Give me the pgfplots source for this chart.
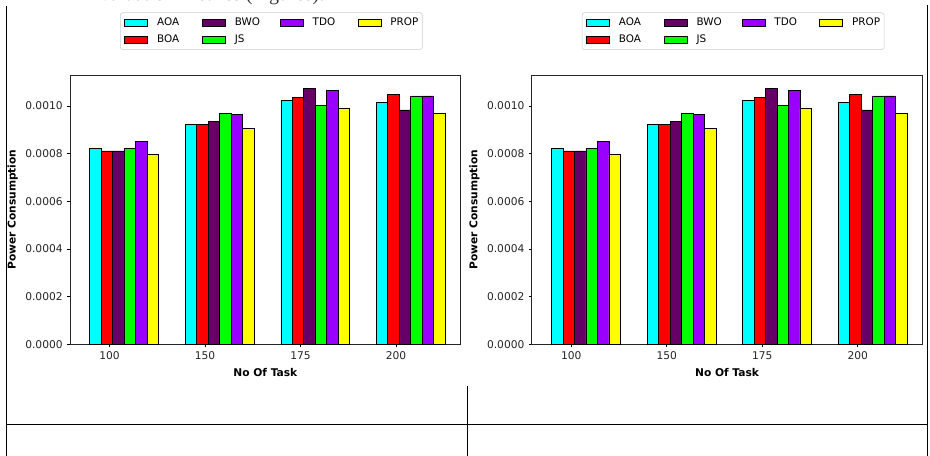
\documentclass[border=0pt]{standalone}
\usepackage{fontspec}
\setmainfont{DejaVu Sans}
\newfontfamily\seriffont{Liberation Serif}
\usepackage{pgfplots}
\usepackage{pgfplotstable}
\pgfplotsset{compat=1.18}
\definecolor{cAOA}{RGB}{0,255,255}
\definecolor{cBOA}{RGB}{255,0,0}
\definecolor{cBWO}{RGB}{102,0,102}
\definecolor{cJS}{RGB}{0,255,0}
\definecolor{cTDO}{RGB}{153,0,255}
\definecolor{cPROP}{RGB}{255,255,0}

\pgfplotstableread{
x AOA      BOA      BWO      JS       TDO      PROP
0 0.000821 0.000811 0.000811 0.000821 0.000852 0.000797
1 0.000923 0.000923 0.000934 0.000969 0.000964 0.000906
2 0.001022 0.001036 0.001073 0.001003 0.001066 0.000989
3 0.001013 0.001049 0.000983 0.001042 0.001042 0.000968
}\datatab

\pgfplotsset{
  mylegimg/.style={legend image code/.code={\draw[##1,draw=black,line width=0.6pt,sharp corners] (0pt,-2.5pt) rectangle (17.25pt,2.5pt);}},
  b/.style={ybar, bar width=0.12, bar shift=0pt, draw=black, line width=0.6pt, fill=#1, mylegimg},
  mybars/.style={
    scale only axis, width=293pt, height=202pt,
    xmin=-0.413, xmax=3.677, ymin=0, ymax=0.00113,
    xtick={0,1,2,3}, xticklabels={100,150,175,200},
    ytick={0,0.0002,0.0004,0.0006,0.0008,0.001},
    scaled y ticks=false,
    yticklabel style={/pgf/number format/.cd, fixed, fixed zerofill, precision=4},
    /pgf/number format/assume math mode=true,
    tick align=outside, tick pos=left, major tick length=2pt,
    every tick/.style={black, line width=0.45pt},
    axis line style={black!85, line width=0.55pt},
    tick label style={font=\fontsize{8}{9.6}\selectfont, text=black!85},
    label style={font=\fontsize{8}{9.6}\selectfont\bfseries},
    xlabel={No Of Task}, ylabel={Power Consumption},
    xlabel style={at={(axis description cs:0.5,-0.104)}, anchor=center},
    ylabel style={at={(axis description cs:-0.1465,0.5)}, anchor=center},
    legend columns=4,
    legend style={at={(axis description cs:0.128,1.0928)}, anchor=south west,
      draw=black!20, rounded corners=2pt, inner xsep=3pt, inner ysep=3.75pt,
      font=\fontsize{7.8}{9}\selectfont, row sep=5.25pt,
      /tikz/every odd column/.append style={column sep=6.75pt},
      nodes={inner sep=0pt, text height=6pt, text depth=1.5pt}},
  }
}

\newcommand{\bars}{%
  \addplot[b=cAOA]  table[x expr=\thisrow{x}+0.155-0.30, y=AOA]{\datatab};
  \addlegendentry{\makebox[33.75pt][l]{AOA}}
  \addplot[b=cBWO]  table[x expr=\thisrow{x}+0.155-0.06, y=BWO]{\datatab};
  \addlegendentry{\makebox[33.75pt][l]{BWO}}
  \addplot[b=cTDO]  table[x expr=\thisrow{x}+0.155+0.18, y=TDO]{\datatab};
  \addlegendentry{\makebox[33.75pt][l]{TDO}}
  \addplot[b=cPROP] table[x expr=\thisrow{x}+0.155+0.30, y=PROP]{\datatab};
  \addlegendentry{PROP}
  \addplot[b=cBOA]  table[x expr=\thisrow{x}+0.155-0.18, y=BOA]{\datatab};
  \addlegendentry{\makebox[33.75pt][l]{BOA}}
  \addplot[b=cJS]   table[x expr=\thisrow{x}+0.155+0.06, y=JS]{\datatab};
  \addlegendentry{\makebox[33.75pt][l]{JS}}
}

\begin{document}
\begin{tikzpicture}
\useasboundingbox (0,0) rectangle (697.5pt,342pt);
\fill[white] (0,0) rectangle (697.5pt,342pt);
% surrounding document text (cut at the top edge, as in the reference) and table rules
\node[anchor=base east, inner sep=0pt, font=\seriffont\fontsize{15}{18}\selectfont, text=black!80]
  at (243.75pt,341.8pt) {Evaluation Metrics (Figures):};
\draw[line width=0.75pt] (4.9pt,0) -- (4.9pt,337.5pt);
\draw[line width=0.75pt] (695.25pt,0) -- (695.25pt,338pt);
\draw[line width=0.75pt] (350.25pt,0) -- (350.25pt,52.5pt);
\draw[line width=0.75pt] (4.9pt,23.8pt) -- (695.25pt,23.8pt);

\begin{axis}[mybars, at={(52.5pt,83.8pt)}, anchor=south west]
\bars
\end{axis}
\begin{axis}[mybars, at={(398.8pt,83.8pt)}, anchor=south west]
\bars
\end{axis}
\end{tikzpicture}
\end{document}
